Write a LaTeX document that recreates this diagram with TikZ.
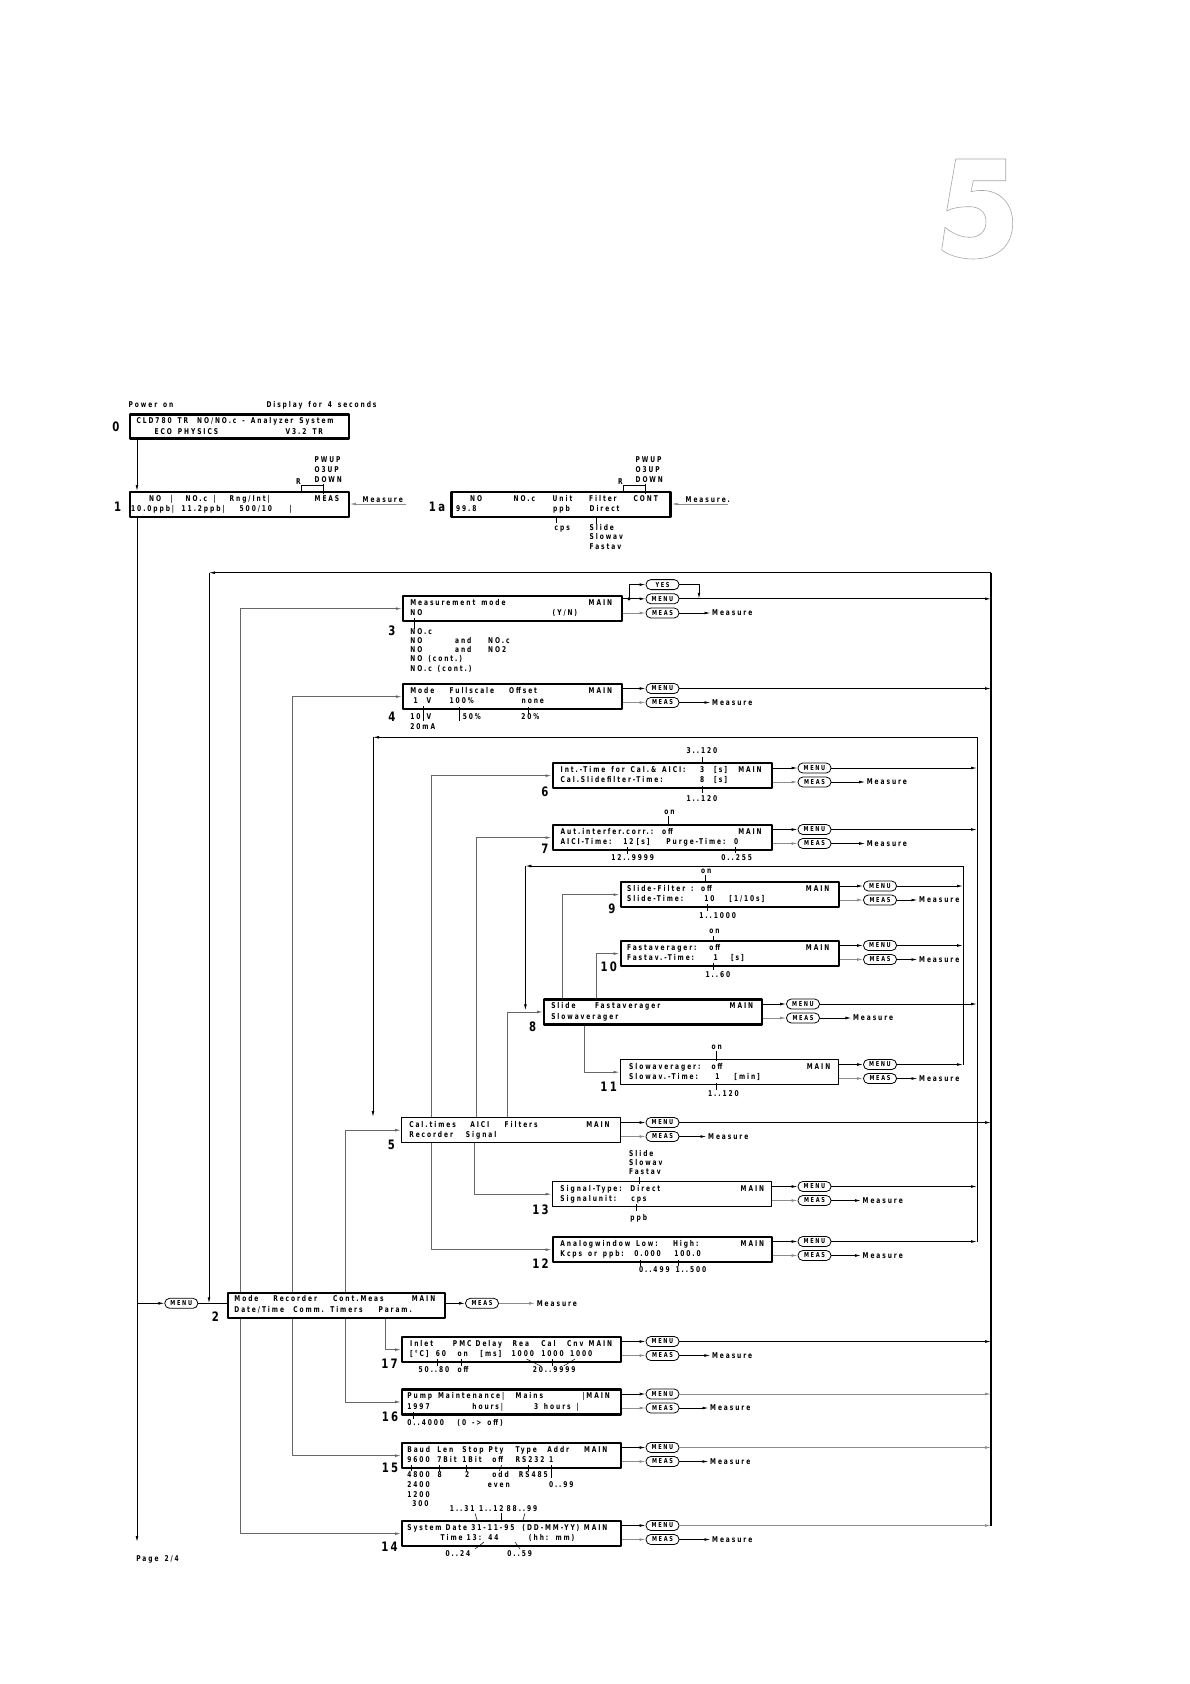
\documentclass[tikz,border=0pt]{standalone}
\usepackage{fontspec}
\usetikzlibrary{arrows.meta}
\newfontfamily\lcdfamily[FakeStretch=0.74,LetterSpace=24,WordSpace=1.5]{DejaVu Sans}
\newfontfamily\numfamily[FakeStretch=0.78,LetterSpace=18]{DejaVu Sans}
\newcommand\lcd{\lcdfamily\bfseries\fontsize{8}{9}\selectfont}
\newcommand\pillfont{\lcdfamily\bfseries\fontsize{6.8}{7}\selectfont}
\newcommand\lcdat[2]{\rlap{\hspace*{#1pt}#2}}

\begin{document}
\begin{tikzpicture}[x=1pt, y=-1pt, line join=round,
  lcd/.style={draw, line width=2.3pt, fill=white, inner sep=0pt, anchor=north west,
    minimum width=219pt, minimum height=25pt},
  lcdthin/.style={lcd, line width=1.3pt},
  pill/.style={draw, line width=0.8pt, rounded corners=4.8pt, minimum width=33pt,
    minimum height=10pt, inner sep=0pt, font=\pillfont},
  row/.style={anchor=base west, inner sep=0pt, font=\lcd},
  meas/.style={anchor=west, inner sep=1.5pt, font=\lcd},
  num/.style={inner sep=0pt, font=\numfamily\bfseries\fontsize{13}{13}\selectfont},
  arr/.style={line width=0.8pt, -{Latex[length=6pt,width=2.8pt]}},
  grayarr/.style={arr, draw=black!45},
  lane/.style={arr, draw=black!60},
  tick/.style={line width=0.5pt},
]

  %% ════ chapter number (outline only) ════
  \draw[black!35, line width=0.6pt] (955.7,159) -- (1005.7,159) -- (1005.7,180.7) -- (973.3,180.7)
    -- (971,191.7) .. controls (995,186) and (1012.7,200) .. (1012.7,223)
    .. controls (1012.7,248) and (995,259) .. (973,259)
    .. controls (960,259) and (948,255) .. (941.7,250) -- (945,227.3)
    .. controls (952,233) and (960,237.3) .. (970,237.3)
    .. controls (980,237.3) and (986,231) .. (986,221.7)
    .. controls (986,212) and (979,206.7) .. (970,206.7)
    .. controls (960,206.7) and (952,208) .. (946.7,211) -- cycle;

  %% ════ displays ════
  \node[lcd, minimum height=24pt] (box0) at (128.5,413.3) {};
  \node[lcd] (box1)  at (128.5,491) {};
  \node[lcd] (box1a) at (450.4,491) {};
  \node[lcd] (box3)  at (401.8,595) {};
  \node[lcd] (box4)  at (401.8,683) {};
  \node[lcd] (box6)  at (551.5,762) {};
  \node[lcd] (box7)  at (551.5,824) {};
  \node[lcd, minimum width=218pt] (box9)  at (619.5,881) {};
  \node[lcd, minimum width=218pt] (box10) at (619.5,940) {};
  \node[lcd, minimum width=218pt] (box8)  at (543,998.3) {};
  \node[lcdthin, minimum width=218pt] (box11) at (619.5,1059) {};
  \node[lcdthin] (box5)  at (401,1117) {};
  \node[lcdthin] (box13) at (551.5,1181) {};
  \node[lcd] (box12) at (551.5,1236) {};
  \node[lcd, minimum width=217pt] (box2) at (227,1291.7) {};
  \node[lcd] (box17) at (401,1336) {};
  \node[lcd] (box16) at (401,1388.3) {};
  \node[lcd] (box15) at (401,1442) {};
  \node[lcd] (box14) at (401,1520) {};

  %% ════ numbers ════
  \node[num] (n0)  at (115.8,426.7) {0};
  \node[num] (n1)  at (117.7,506.7) {1};
  \node[num] (n1a) at (437,506.7) {1a};
  \node[num] (n3)  at (391.8,630.7) {3};
  \node[num] (n4)  at (391.8,716.7) {4};
  \node[num] (n6)  at (545,791.7) {6};
  \node[num] (n7)  at (545,848.3) {7};
  \node[num] (n9)  at (612,908.3) {9};
  \node[num] (n10) at (608.8,966.7) {10};
  \node[num] (n8)  at (532.6,1026.7) {8};
  \node[num] (n11) at (608.7,1086.7) {11};
  \node[num] (n5)  at (391.4,1145) {5};
  \node[num] (n13) at (540.5,1210) {13};
  \node[num] (n12) at (540.5,1263.3) {12};
  \node[num] (n2)  at (215.5,1316.7) {2};
  \node[num] (n17) at (389.5,1363.3) {17};
  \node[num] (n16) at (390,1416.7) {16};
  \node[num] (n15) at (390,1468.3) {15};
  \node[num] (n14) at (389.5,1546.7) {14};

  %% ════ texts: power on, 0, 1, 1a ════
  \node[row] (pwr) at (0,407.5) {\lcdat{128}{Power on}\lcdat{265.8}{Display for 4 seconds}};
  \node[row] (r0a) at (0,423.3) {\lcdat{136}{CLD780 TR}\lcdat{196.5}{NO/NO.c - Analyzer System}};
  \node[row] (r0b) at (0,434.1) {\lcdat{154}{ECO PHYSICS}\lcdat{285}{V3.2 TR}};
  \node[row] (r1a) at (0,501) {\lcdat{148.5}{NO}\lcdat{169.6}{|}\lcdat{185}{NO.c}\lcdat{213}{|}\lcdat{229}{Rng/Int|}\lcdat{314}{MEAS}};
  \node[row] (r1b) at (0,511.8) {\lcdat{130.5}{10.0ppb|}\lcdat{181}{11.2ppb|}\lcdat{239}{500/10}\lcdat{289}{|}};
  \node[row] (k1) at (0,462.5) {\lcdat{314}{PWUP}\lcdat{635}{PWUP}};
  \node[row] (k2) at (0,472.5) {\lcdat{314}{O3UP}\lcdat{635}{O3UP}};
  \node[row] (k3) at (0,482.5) {\lcdat{314}{DOWN}\lcdat{635}{DOWN}};
  \node[row] (k4) at (0,484) {\lcdat{295.5}{R}\lcdat{617.5}{R}};
  \node[row] (r1c) at (0,501) {\lcdat{469.5}{NO}\lcdat{513}{NO.c}\lcdat{552}{Unit}\lcdat{588.5}{Filter}\lcdat{633}{CONT}};
  \node[row] (r1d) at (0,511.8) {\lcdat{455.4}{99.8}\lcdat{552.5}{ppb}\lcdat{589}{Direct}};
  \node[row] (u1) at (0,530) {\lcdat{554}{cps}\lcdat{589}{Slide}};
  \node[row] (u2) at (0,539.5) {\lcdat{589}{Slowav}};
  \node[row] (u3) at (0,549) {\lcdat{589}{Fastav}};
  \node[row] (mt1) at (0,502) {\lcdat{362}{Measure}\lcdat{685}{Measure.}};
  \draw[tick] (301.5,491) -- (301.5,485.7) -- (323.5,485.7);
  \draw[tick] (323.5,483.5) -- (323.5,494);
  \draw[tick] (623.5,491) -- (623.5,485.7) -- (645.4,485.7);
  \draw[tick] (645.4,483.5) -- (645.4,494);
  \draw[tick] (556,517) -- (556,523);
  \draw[tick] (596.5,517) -- (596.5,524);
  \coordinate (mo1) at (406,504);
  \coordinate (mo1a) at (728,504);
  \draw[grayarr] (mo1) -- (mo1 -| box1.east);
  \draw[grayarr] (mo1a) -- (mo1a -| box1a.east);

  %% ════ texts: 3, 4 ════
  \node[row] (r3a) at (0,605) {\lcdat{409.7}{Measurement mode}\lcdat{588}{MAIN}};
  \node[row] (r3b) at (0,615.8) {\lcdat{409.7}{NO}\lcdat{552}{(Y/N)}};
  \node[row] (o1) at (0,634.2) {\lcdat{409.7}{NO.c}};
  \node[row] (o2) at (0,643.2) {\lcdat{409.7}{NO}\lcdat{454.4}{and}\lcdat{487.5}{NO.c}};
  \node[row] (o3) at (0,652.5) {\lcdat{409.7}{NO}\lcdat{454.4}{and}\lcdat{487.5}{NO2}};
  \node[row] (o4) at (0,661.8) {\lcdat{409.7}{NO (cont.)}};
  \node[row] (o5) at (0,671.2) {\lcdat{409.7}{NO.c (cont.)}};
  \draw[tick] (414,618) -- (414,629);
  \node[row] (r4a) at (0,693) {\lcdat{409.7}{Mode}\lcdat{449}{Fullscale}\lcdat{508.5}{Offset}\lcdat{588}{MAIN}};
  \node[row] (r4b) at (0,703.8) {\lcdat{413}{1}\lcdat{426}{V}\lcdat{449}{100\%}\lcdat{521}{none}};
  \node[row] (r4c) at (0,719.5) {\lcdat{409.7}{10}\lcdat{426}{V}\lcdat{462.2}{50\%}\lcdat{520.6}{20\%}};
  \node[row] (r4d) at (0,729) {\lcdat{409.7}{20mA}};
  \draw[tick] (423.4,706) -- (423.4,721);
  \draw[tick] (459.6,707) -- (459.6,721);
  \draw[tick] (528,707) -- (528,714);

  %% ════ texts: 6, 7 ════
  \node[row] (r6a) at (0,772) {\lcdat{560}{Int.-Time for Cal.\& AICI:}\lcdat{699.5}{3}\lcdat{713.5}{[s]}\lcdat{737.6}{MAIN}};
  \node[row] (r6b) at (0,782.8) {\lcdat{560}{Cal.Slidefilter-Time:}\lcdat{699.5}{8}\lcdat{713.5}{[s]}};
  \node[row] (r6c) at (0,753.5) {\lcdat{686}{3..120}};
  \node[row] (r6d) at (0,801) {\lcdat{686}{1..120}};
  \draw[tick] (702,757) -- (702,764);
  \draw[tick] (702,786) -- (702,793);
  \node[row] (r7a) at (0,834) {\lcdat{560}{Aut.interfer.corr.:}\lcdat{661.5}{off}\lcdat{737.6}{MAIN}};
  \node[row] (r7b) at (0,844.8) {\lcdat{560}{AICI-Time:}\lcdat{622.6}{12}\lcdat{636}{[s]}\lcdat{665.7}{Purge-Time:}\lcdat{733.4}{0}};
  \node[row] (r7c) at (0,814) {\lcdat{663.6}{on}};
  \node[row] (r7d) at (0,860.5) {\lcdat{610.7}{12..9999}\lcdat{720.7}{0..255}};
  \draw[tick] (667.8,816) -- (667.8,826);
  \draw[tick] (627.6,847) -- (627.6,854);
  \draw[tick] (735.5,847) -- (735.5,853);

  %% ════ texts: 9, 10, 8, 11 ════
  \node[row] (r9a) at (0,891) {\lcdat{626.5}{Slide-Filter :}\lcdat{700.4}{off}\lcdat{805.3}{MAIN}};
  \node[row] (r9b) at (0,901.8) {\lcdat{626.5}{Slide-Time:}\lcdat{703.7}{10}\lcdat{728.7}{[1/10s]}};
  \node[row] (r9c) at (0,873) {\lcdat{700.4}{on}};
  \node[row] (r9d) at (0,918) {\lcdat{698.7}{1..1000}};
  \draw[tick] (705,875) -- (705,883);
  \draw[tick] (707,904) -- (707,911);
  \node[row] (r10a) at (0,950) {\lcdat{626.5}{Fastaverager:}\lcdat{708.7}{off}\lcdat{805.3}{MAIN}};
  \node[row] (r10b) at (0,960.8) {\lcdat{626.5}{Fastav.-Time:}\lcdat{713}{1}\lcdat{730.4}{[s]}};
  \node[row] (r10c) at (0,933.5) {\lcdat{708.7}{on}};
  \node[row] (r10d) at (0,977.5) {\lcdat{705}{1..60}};
  \draw[tick] (713,936) -- (713,942);
  \draw[tick] (713,963) -- (713,970);
  \node[row] (r8a) at (0,1008.3) {\lcdat{550.6}{Slide}\lcdat{594.4}{Fastaverager}\lcdat{729}{MAIN}};
  \node[row] (r8b) at (0,1019.1) {\lcdat{550.6}{Slowaverager}};
  \node[row] (r11a) at (0,1069) {\lcdat{628.5}{Slowaverager:}\lcdat{711}{off}\lcdat{806.2}{MAIN}};
  \node[row] (r11b) at (0,1079.8) {\lcdat{628.5}{Slowav.-Time:}\lcdat{714.6}{1}\lcdat{733.7}{[min]}};
  \node[row] (r11c) at (0,1049.5) {\lcdat{711}{on}};
  \node[row] (r11d) at (0,1096) {\lcdat{707.5}{1..120}};
  \draw[tick] (716,1051) -- (716,1061);
  \draw[tick] (716,1083) -- (716,1090);

  %% ════ texts: 5, 13, 12 ════
  \node[row] (r5a) at (0,1127) {\lcdat{408.6}{Cal.times}\lcdat{469.6}{AICI}\lcdat{504}{Filters}\lcdat{585.6}{MAIN}};
  \node[row] (r5b) at (0,1137.8) {\lcdat{408.6}{Recorder}\lcdat{465.3}{Signal}};
  \node[row] (r13a) at (0,1191) {\lcdat{559.8}{Signal-Type:}\lcdat{629.8}{Direct}\lcdat{740}{MAIN}};
  \node[row] (r13b) at (0,1201.8) {\lcdat{559.8}{Signalunit:}\lcdat{630.7}{cps}};
  \node[row] (r13c) at (0,1156) {\lcdat{628.5}{Slide}};
  \node[row] (r13d) at (0,1165.3) {\lcdat{628.5}{Slowav}};
  \node[row] (r13e) at (0,1174.5) {\lcdat{628.5}{Fastav}};
  \node[row] (r13f) at (0,1220) {\lcdat{629.8}{ppb}};
  \draw[tick] (639,1176.5) -- (639,1184);
  \draw[tick] (636,1204) -- (636,1211);
  \node[row] (r12a) at (0,1246) {\lcdat{559.8}{Analogwindow Low:}\lcdat{672.3}{High:}\lcdat{740}{MAIN}};
  \node[row] (r12b) at (0,1256.8) {\lcdat{559.8}{Kcps or ppb:}\lcdat{633.7}{0.000}\lcdat{673.6}{100.0}};
  \node[row] (r12c) at (0,1272.5) {\lcdat{638.4}{0..499 1..500}};
  \draw[tick] (640.5,1260) -- (640.5,1266);
  \draw[tick] (678.7,1260) -- (678.7,1266);

  %% ════ texts: 2, 17, 16, 15, 14 ════
  \node[row] (r2a) at (0,1301.7) {\lcdat{233.8}{Mode}\lcdat{272.6}{Recorder}\lcdat{332.5}{Cont.Meas}\lcdat{411.2}{MAIN}};
  \node[row] (r2b) at (0,1312.5) {\lcdat{233.8}{Date/Time}\lcdat{292.6}{Comm.}\lcdat{329.6}{Timers}\lcdat{378}{Param.}};
  \node[row] (r17a) at (0,1346) {\lcdat{409.5}{Inlet}\lcdat{452.3}{PMC}\lcdat{475}{Delay}\lcdat{512}{Rea}\lcdat{540.7}{Cal}\lcdat{566.4}{Cnv}\lcdat{588}{MAIN}};
  \node[row] (r17b) at (0,1356.8) {\lcdat{409.5}{[°C]}\lcdat{435.2}{60}\lcdat{456.9}{on}\lcdat{479.7}{[ms]}\lcdat{511}{1000}\lcdat{540.7}{1000}\lcdat{569.3}{1000}};
  \node[row] (r17c) at (0,1372) {\lcdat{418}{50..80}\lcdat{457}{off}\lcdat{532.2}{20..9999}};
  \draw[tick] (437,1359) -- (437,1366);
  \draw[tick] (461,1359) -- (461,1366);
  \draw[tick] (526.5,1359) -- (540.7,1366);
  \draw[tick] (552,1359) -- (552,1366);
  \draw[tick] (575,1359) -- (563.6,1366);
  \node[row] (r16a) at (0,1398.3) {\lcdat{406.7}{Pump Maintenance|}\lcdat{515}{Mains}\lcdat{581.7}{|MAIN}};
  \node[row] (r16b) at (0,1409.1) {\lcdat{406.7}{1997}\lcdat{471.7}{hours|}\lcdat{533.3}{3}\lcdat{543.3}{hours |}};
  \node[row] (r16c) at (0,1425) {\lcdat{406.7}{0..4000}\lcdat{456.7}{(0 -> off)}};
  \draw[tick] (413.3,1412) -- (413.3,1419);
  \node[row] (r15a) at (0,1452) {\lcdat{406.7}{Baud}\lcdat{436.7}{Len}\lcdat{461.7}{Stop}\lcdat{488}{Pty}\lcdat{515}{Type}\lcdat{546.7}{Addr}\lcdat{583.3}{MAIN}};
  \node[row] (r15b) at (0,1462.8) {\lcdat{406.7}{9600}\lcdat{436.7}{7Bit}\lcdat{461.7}{1Bit}\lcdat{491.7}{off}\lcdat{515}{RS232}\lcdat{548.3}{1}};
  \node[row] (r15c) at (0,1477.5) {\lcdat{406.7}{4800}\lcdat{437}{8}\lcdat{464.5}{2}\lcdat{491.7}{odd}\lcdat{518.3}{RS485}};
  \node[row] (r15d) at (0,1487.5) {\lcdat{406.7}{2400}\lcdat{487.3}{even}\lcdat{548.3}{0..99}};
  \node[row] (r15e) at (0,1497) {\lcdat{406.7}{1200}};
  \node[row] (r15f) at (0,1506.5) {\lcdat{411.7}{300}};
  \draw[tick] (411.7,1465) -- (411.7,1471);
  \draw[tick] (439.3,1465) -- (439.3,1471);
  \draw[tick] (466.7,1465) -- (466.7,1471);
  \draw[tick] (501.7,1465) -- (499.3,1471);
  \draw[tick] (528.3,1465) -- (528.3,1471);
  \draw[tick] (551.7,1465) -- (551.7,1478);
  \node[row] (r14c) at (0,1511.7) {\lcdat{449.3}{1..31}\lcdat{478.3}{1..12}\lcdat{506}{88..99}};
  \node[row] (r14a) at (0,1530) {\lcdat{406.7}{System}\lcdat{445}{Date}\lcdat{470.7}{31-11-95}\lcdat{521.7}{(DD-MM-YY)}\lcdat{583.3}{MAIN}};
  \node[row] (r14b) at (0,1540.8) {\lcdat{440}{Time}\lcdat{466}{13: 44}\lcdat{528.3}{(hh: mm)}};
  \node[row] (r14d) at (0,1556.7) {\lcdat{445}{0..24}\lcdat{506.7}{0..59}};
  \draw[tick] (475,1513.3) -- (477.3,1521);
  \draw[tick] (501.7,1513.3) -- (501.7,1521);
  \draw[tick] (525,1513.3) -- (522.7,1521);
  \draw[tick] (484,1542) -- (475,1549);
  \draw[tick] (515,1542) -- (520,1549);
  \node[row] (pg) at (0,1561.8) {\lcdat{135.7}{Page 2/4}};

  %% ════ keys ════
  \node[pill] (y3)  at (662.5,584.6) {YES};
  \node[pill] (m3)  at (662.5,598.8) {MENU};
  \node[pill] (s3)  at (662.5,613) {MEAS};
  \node[pill] (m4)  at (662.5,688.5) {MENU};
  \node[pill] (s4)  at (662.5,702.5) {MEAS};
  \node[pill] (m5)  at (662.5,1122.5) {MENU};
  \node[pill] (s5)  at (662.5,1136.5) {MEAS};
  \node[pill] (m17) at (662.5,1341.5) {MENU};
  \node[pill] (s17) at (662.5,1355.5) {MEAS};
  \node[pill] (m16) at (662.5,1394) {MENU};
  \node[pill] (s16) at (662.5,1408) {MEAS};
  \node[pill] (m15) at (662.5,1447.5) {MENU};
  \node[pill] (s15) at (662.5,1461.5) {MEAS};
  \node[pill] (m14) at (662.5,1525.5) {MENU};
  \node[pill] (s14) at (662.5,1539.5) {MEAS};
  \node[pill] (m6)  at (814.5,768) {MENU};
  \node[pill] (s6)  at (814.5,782) {MEAS};
  \node[pill] (m7)  at (814.5,829.5) {MENU};
  \node[pill] (s7)  at (814.5,843.5) {MEAS};
  \node[pill] (m13) at (814.5,1186.5) {MENU};
  \node[pill] (s13) at (814.5,1200.5) {MEAS};
  \node[pill] (m12) at (814.5,1241.5) {MENU};
  \node[pill] (s12) at (814.5,1255.5) {MEAS};
  \node[pill] (m8)  at (803,1004) {MENU};
  \node[pill] (s8)  at (803,1018) {MEAS};
  \node[pill] (m9)  at (880,886) {MENU};
  \node[pill] (s9)  at (880,900) {MEAS};
  \node[pill] (m10) at (880,945.5) {MENU};
  \node[pill] (s10) at (880,959.5) {MEAS};
  \node[pill] (m11) at (880,1064.5) {MENU};
  \node[pill] (s11) at (880,1078.5) {MEAS};
  \node[pill] (m2)  at (181.3,1303.3) {MENU};
  \node[pill] (s2)  at (482,1303.3) {MEAS};

  \node[meas] (ms3)  at (710.5,613) {Measure};
  \node[meas] (ms4)  at (710.5,702.5) {Measure};
  \node[meas] (ms5)  at (706.5,1136.5) {Measure};
  \node[meas] (ms17) at (710.4,1355.5) {Measure};
  \node[meas] (ms16) at (708.5,1408) {Measure};
  \node[meas] (ms15) at (708.5,1461.5) {Measure};
  \node[meas] (ms14) at (710.5,1539.5) {Measure};
  \node[meas] (ms6)  at (865.2,782) {Measure};
  \node[meas] (ms7)  at (865.2,843.5) {Measure};
  \node[meas] (ms13) at (861,1200.5) {Measure};
  \node[meas] (ms12) at (861,1255.5) {Measure};
  \node[meas] (ms8)  at (851.4,1018) {Measure};
  \node[meas] (ms9)  at (917.5,900) {Measure};
  \node[meas] (ms10) at (917.5,959.5) {Measure};
  \node[meas] (ms11) at (917.5,1078.5) {Measure};
  \node[meas] (ms2)  at (535.2,1303.3) {Measure};

  %% ════ return buses ════
  \coordinate (busT) at (991,572.7);
  \coordinate (busB) at (991,1525.5);
  \coordinate (loopA) at (209,572.7);
  \coordinate (ib2T) at (977,737.3);
  \coordinate (loopB) at (373,737.3);
  \coordinate (ib3T) at (963,866);
  \coordinate (loopC) at (525.4,866);
  \draw[line width=1.3pt] (busT) -- (busB);
  \draw[line width=0.9pt] (ib2T) -- (ib2T |- m12);
  \draw[line width=0.9pt] (ib3T) -- (ib3T |- m11);
  \draw[arr] (busT) -- (loopA);
  \draw[arr] (loopA) -- (loopA |- m2);
  \draw[arr] (ib2T) -- (loopB);
  \draw[arr] (loopB) -- (loopB |- box5.north);
  \draw[arr] (ib3T) -- (loopC);
  \draw[arr] (loopC) -- ([yshift=1.5pt]loopC |- box8.west);

  %% ════ power-on spine ════
  \coordinate (spine) at (137,0);
  \coordinate (spineEnd) at (137,1542);
  \draw[arr] (box0.south -| spine) -- (box1.north -| spine);
  \draw[arr] (box1.south -| spine) -- (spineEnd);
  \draw[arr] (spine |- m2) -- (m2.west);
  \draw[line width=0.8pt] (m2.east) -- (m2.east -| box2.west);
  \draw[arr] (box2.east |- s2) -- (s2.west);
  \draw[grayarr] (s2.east) -- (ms2.west);

  %% ════ menu lanes ════
  \coordinate (lnMode) at (240,0);
  \coordinate (lnRec) at (292.6,0);
  \coordinate (lnCont) at (345.6,0);
  \coordinate (lnPar) at (385.6,0);
  \draw[lane] (box2.north -| lnMode) |- (box3.west);
  \draw[lane] (box2.north -| lnRec) |- (box4.west);
  \draw[lane] (box2.north -| lnCont) |- (box5.west);
  \draw[lane] (box2.south -| lnMode) |- (box14.west);
  \draw[lane] (box2.south -| lnRec) |- (box15.west);
  \draw[lane] (box2.south -| lnCont) |- (box16.west);
  \draw[lane] (box2.south -| lnPar) |- (box17.west);
  \coordinate (lnCal) at (431,0);
  \coordinate (lnAici) at (476,0);
  \coordinate (lnFil) at (507.4,0);
  \coordinate (lnSig) at (474.7,0);
  \draw[lane] (box5.north -| lnCal) |- (box6.west);
  \draw[lane] (box5.north -| lnAici) |- (box7.west);
  \draw[lane] (box5.north -| lnFil) |- (box8.west);
  \draw[lane] (box5.south -| lnCal) |- (box12.west);
  \draw[lane] (box5.south -| lnSig) |- (box13.west);
  \coordinate (lnSli) at (562.6,0);
  \coordinate (lnFas) at (596.6,0);
  \coordinate (lnSlo) at (584.3,0);
  \draw[lane] (box8.north -| lnSli) |- (box9.west);
  \draw[lane] (box8.north -| lnFas) |- (box10.west);
  \draw[lane] (box8.south -| lnSlo) |- (box11.west);

  %% ════ keys: box -> key -> target ════
  \foreach \b in {3,4,5,6,7,8,9,10,11,12,13,14,15,16,17} {
    \draw[arr] (box\b.east |- m\b) -- (m\b.west);
    \draw[grayarr] (box\b.east |- s\b) -- (s\b.west);
    \draw[arr] (s\b.east) -- (ms\b.west);
  }
  \foreach \b in {3,4,5,17} \draw[arr] (m\b.east) -- (m\b.east -| busT);
  \foreach \b in {16,15,14} \draw[grayarr] (m\b.east) -- (m\b.east -| busT);
  \foreach \b in {6,7,8,13,12} \draw[arr] (m\b.east) -- (m\b.east -| ib2T);
  \foreach \b in {9,10,11} \draw[arr] (m\b.east) -- (m\b.east -| ib3T);
  \coordinate (dot3) at (629,598.8);
  \coordinate (j3) at (699,598.8);
  \fill (dot3) circle (1.8pt);
  \draw[arr] (dot3) |- (y3.west);
  \draw[arr] (y3.east) -| (j3);

  \pgfresetboundingbox
  \path[use as bounding box] (0,0) rectangle (1190,1684);
\end{tikzpicture}
\end{document}
